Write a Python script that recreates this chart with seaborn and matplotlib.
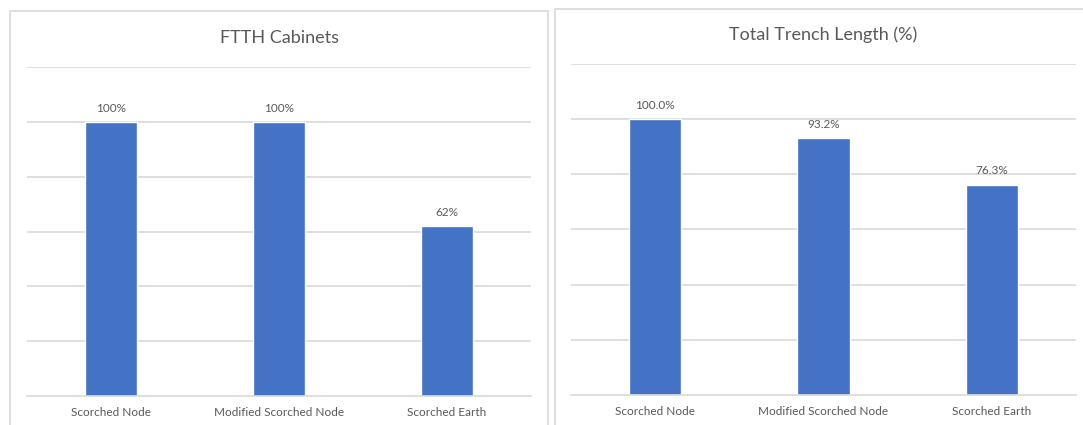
#Import libraries
import pandas as pd
import matplotlib.pyplot as plt
import seaborn as sns
from matplotlib.patches import Rectangle

#Chart data
categories = ["Scorched Node", "Modified Scorched Node", "Scorched Earth"]
cabinets = [1.00, 1.00, 0.62]
cabinet_labels = ["100%", "100%", "62%"]
trench = [1.000, 0.932, 0.763]
trench_labels = ["100.0%", "93.2%", "76.3%"]

bar_color = "#4472C4"
text_color = "#595959"
grid_color = "#D9D9D9"

sns.set_style("white")
plt.rcParams["font.family"] = ["Lato", "DejaVu Sans"]

W, H = 1083, 425
fig = plt.figure(figsize=(W / 100, H / 100), dpi=100)

#Panel frames (cut off at the bottom like the screenshot)
for x0, x1, y0 in [(10, 548, 11), (555, 1090, 9)]:
    fig.patches.append(Rectangle((x0 / W, -0.1), (x1 - x0) / W, 1.1 - y0 / H,
                                 transform=fig.transFigure, fill=False,
                                 edgecolor=grid_color, linewidth=1.2))


def draw_panel(rect, values, labels, title, title_y):
    x0, x1, ytop, ybot = rect
    ax = fig.add_axes([x0 / W, 1 - ybot / H, (x1 - x0) / W, (ybot - ytop) / H])
    df = pd.DataFrame({"cat": categories, "val": values})
    sns.barplot(data=df, x="cat", y="val", color=bar_color, width=0.31,
                saturation=1, ax=ax)
    ax.set_ylim(0, 1.2)
    ax.set_yticks([0.2, 0.4, 0.6, 0.8, 1.0, 1.2])
    ax.yaxis.grid(True, color=grid_color, linewidth=1.2)
    ax.set_axisbelow(True)
    ax.set_yticklabels([])
    ax.tick_params(axis="both", length=0)
    ax.tick_params(axis="x", labelsize=8.5, labelcolor=text_color, pad=8)
    for s in ["top", "left", "right"]:
        ax.spines[s].set_visible(False)
    ax.spines["bottom"].set_color(grid_color)
    ax.spines["bottom"].set_linewidth(1.2)
    ax.set_xlabel("")
    ax.set_ylabel("")
    ax.bar_label(ax.containers[0], labels=labels, padding=6,
                 fontsize=8.5, color=text_color)
    fig.text((x0 + x1) / 2 / W, 1 - title_y / H, title, ha="center",
             va="center", fontsize=13, color=text_color)
    return ax


draw_panel((27, 531, 67, 396), cabinets, cabinet_labels, "FTTH Cabinets", 38)
draw_panel((571, 1076, 64, 395), trench, trench_labels,
           "Total Trench Length (%)", 35)

plt.savefig("out.png", dpi=100)
